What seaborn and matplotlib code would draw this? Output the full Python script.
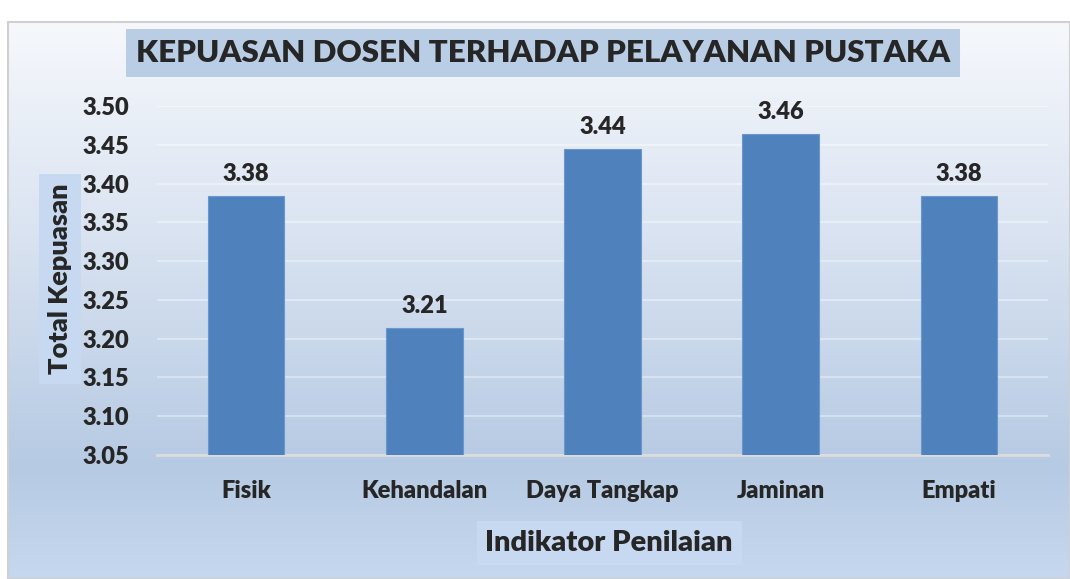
import numpy as np
import pandas as pd
import seaborn as sns
import matplotlib.pyplot as plt
from matplotlib.colors import LinearSegmentedColormap


categories = ['Fisik', 'Kehandalan', 'Daya Tangkap', 'Jaminan', 'Empati']
scores = [3.384, 3.214, 3.444, 3.464, 3.384]
score_labels = ['3.38', '3.21', '3.44', '3.46', '3.38']
y_ticks = [3.05, 3.10, 3.15, 3.20, 3.25, 3.30, 3.35, 3.40, 3.45, 3.50]

bar_color = '#4f81bd'
font = ['Lato', 'DejaVu Sans']

sns.set_style('white')
plt.rcParams['font.family'] = font

fig = plt.figure(figsize=(10.7, 5.79), dpi=100)
fig.patch.set_facecolor('white')

# chart area background: light gradient top to bottom
bg = fig.add_axes([8 / 1070, 0, 1 - 8 / 1070, 557 / 579], zorder=-2)
bg_cmap = LinearSegmentedColormap.from_list(
    'bg', [(0, '#f6f8fc'), (0.35, '#dce5f2'), (0.8, '#b6cae3'), (1, '#c6d8ef')]
)
bg.imshow(np.linspace(0, 1, 256).reshape(-1, 1), aspect='auto', cmap=bg_cmap,
          extent=[0, 1, 0, 1], origin='upper')
bg.set_xticks([])
bg.set_yticks([])
for s in bg.spines.values():
    s.set_color('#d0d0d0')
    s.set_linewidth(1.5)

ax = fig.add_axes([157 / 1070, 1 - 455 / 579, 891 / 1070, 349 / 579])
ax.patch.set_alpha(0)

df = pd.DataFrame({'Indikator': categories, 'Skor': scores})
sns.barplot(data=df, x='Indikator', y='Skor', color=bar_color, width=0.43,
            edgecolor='#6b98cc', linewidth=0.8, saturation=1, ax=ax, zorder=3)

ax.set_ylim(3.05, 3.50)
ax.set_xlim(-0.5, 4.5)
ax.set_yticks(y_ticks)
ax.set_yticklabels([f'{t:.2f}' for t in y_ticks])
ax.yaxis.grid(True, color='white', alpha=0.45, linewidth=1.2, zorder=0)
ax.set_axisbelow(True)
ax.tick_params(axis='y', labelsize=17, length=0, pad=20)
ax.tick_params(axis='x', labelsize=17, length=0, pad=18)
for lab in ax.get_xticklabels() + ax.get_yticklabels():
    lab.set_fontweight('heavy')

for side in ['top', 'right', 'left']:
    ax.spines[side].set_visible(False)
ax.spines['bottom'].set_color('#dcdcdc')
ax.spines['bottom'].set_linewidth(2)

ax.bar_label(ax.containers[0], labels=score_labels, padding=8,
             fontsize=17, fontweight='heavy')

ax.set_xlabel('')
ax.set_ylabel('')

fig.text(543 / 1070, 1 - 53 / 579, 'KEPUASAN DOSEN TERHADAP PELAYANAN PUSTAKA',
         ha='center', va='center', fontsize=22.5, fontweight='heavy',
         bbox=dict(boxstyle='square,pad=0.33', facecolor='#b9cde5', edgecolor='none'))

fig.text(60 / 1070, 1 - 279 / 579, 'Total Kepuasan', rotation=90,
         ha='center', va='center', fontsize=19.5, fontweight='heavy',
         bbox=dict(boxstyle='square,pad=0.35', facecolor='#c6d9f1', edgecolor='none'))

fig.text(609 / 1070, 1 - 543 / 579, 'Indikator Penilaian',
         ha='center', va='center', fontsize=21, fontweight='heavy',
         bbox=dict(boxstyle='square,pad=0.3', facecolor='#c6d9f1', edgecolor='none'))

plt.savefig('out.png', dpi=100)
